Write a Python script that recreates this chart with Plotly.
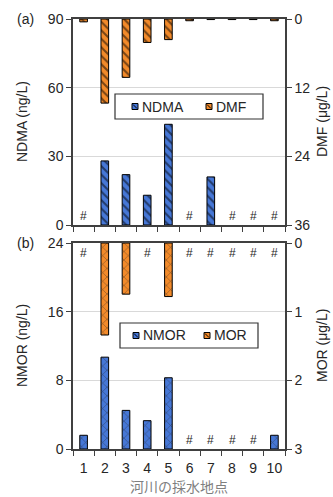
import plotly.graph_objects as go

sites = ["1", "2", "3", "4", "5", "6", "7", "8", "9", "10"]
ndma = [None, 28, 22, 13, 44, None, 21, None, None, None]       # ng/L, None = not detected (#)
dmf = [0.5, 14.7, 10.2, 4.1, 3.6, 0.3, 0.1, 0.1, 0.1, 0.3]       # ug/L
nmor = [1.6, 10.7, 4.5, 3.3, 8.3, None, None, None, None, 1.6]  # ng/L
mor = [None, 1.34, 0.745, None, 0.78, None, None, None, None, None]  # ug/L

a_left_ticks = [0, 30, 60, 90]
a_right_ticks = [0, 12, 24, 36]
b_left_ticks = [0, 8, 16, 24]
b_right_ticks = [0, 1, 2, 3]

BLUE = "#4677d6"
ORANGE = "#f28a2a"
FONT = "Liberation Sans, Arial, sans-serif"
TXT = "#262626"

# plot area in pixels (for paper conversions of hand-placed texts and legends)
L, R, T, B = 73, 285, 19, 449


def px(x):
    return (x - L) / (R - L)


def py(y):
    return (B - y) / (B - T)


fig = go.Figure()

hatch_a = dict(shape="\\", fgcolor="black", size=6, solidity=0.35)
hatch_b = dict(shape="x", fgcolor="#222222", size=6, solidity=0.2)

fig.add_trace(go.Bar(x=sites, y=ndma, name="NDMA", xaxis="x", yaxis="y",
                     marker=dict(color=BLUE, line=dict(color="black", width=1),
                                 pattern=dict(bgcolor=BLUE, **hatch_a)),
                     width=0.36, showlegend=False))
fig.add_trace(go.Bar(x=sites, y=dmf, name="DMF", xaxis="x", yaxis="y2",
                     marker=dict(color=ORANGE, line=dict(color="black", width=1),
                                 pattern=dict(bgcolor=ORANGE, **hatch_a)),
                     width=0.36, showlegend=False))
fig.add_trace(go.Bar(x=sites, y=nmor, name="NMOR", xaxis="x2", yaxis="y3",
                     marker=dict(color=BLUE, line=dict(color="black", width=1),
                                 pattern=dict(bgcolor=BLUE, **hatch_b)),
                     width=0.36, showlegend=False))
fig.add_trace(go.Bar(x=sites, y=mor, name="MOR", xaxis="x2", yaxis="y4",
                     marker=dict(color=ORANGE, line=dict(color="black", width=1),
                                 pattern=dict(bgcolor=ORANGE, **hatch_b)),
                     width=0.36, showlegend=False))

ann = []
shapes = []
hash_font = dict(family=FONT, size=12, color=TXT)
for i, v in enumerate(ndma):
    if v is None:
        ann.append(dict(x=i, y=0, xref="x", yref="y", text="#", showarrow=False,
                        yanchor="bottom", yshift=0, font=hash_font))
for i, v in enumerate(nmor):
    if v is None:
        ann.append(dict(x=i, y=0, xref="x2", yref="y3", text="#", showarrow=False,
                        yanchor="bottom", yshift=0, font=hash_font))
for i, v in enumerate(mor):
    if v is None:
        ann.append(dict(x=i, y=0, xref="x2", yref="y4", text="#", showarrow=False,
                        yanchor="top", yshift=-1, font=hash_font))

f14 = dict(family=FONT, size=14, color=TXT)
ann.append(dict(x=px(15), y=1.0, xref="paper", yref="paper", text="(a)", showarrow=False,
                xanchor="left", yanchor="middle", font=f14))
ann.append(dict(x=px(15), y=py(243), xref="paper", yref="paper", text="(b)", showarrow=False,
                xanchor="left", yanchor="middle", font=f14))

# axis titles
for text, xp, y0, y1 in [("NDMA (ng/L)", 22, 19, 225), ("NMOR (ng/L)", 22, 243, 449),
                         ("DMF (μg/L)", 322, 19, 225), ("MOR (μg/L)", 322, 243, 449)]:
    ann.append(dict(x=px(xp), y=py((y0 + y1) / 2), xref="paper", yref="paper", text=text,
                    textangle=-90, showarrow=False, xanchor="center", yanchor="middle",
                    font=f14))
ann.append(dict(x=px((L + R) / 2), y=py(486), xref="paper", yref="paper", text="河川の採水地点",
                showarrow=False, xanchor="center", yanchor="middle", borderpad=0,
                font=dict(family="Noto Sans CJK JP", size=14, color="#7f7f7f")))

# hand-made legends (box, swatches, labels)
legends = [
    dict(box=(115, 94, 263, 119), items=[("NDMA", BLUE, 132), ("DMF", ORANGE, 206)]),
    dict(box=(120, 323, 258, 348), items=[("NMOR", BLUE, 133), ("MOR", ORANGE, 204)]),
]
for lg in legends:
    x0, y0, x1, y1 = lg["box"]
    shapes.append(dict(type="rect", xref="paper", yref="paper", x0=px(x0), x1=px(x1),
                       y0=py(y1), y1=py(y0), line=dict(color="#333333", width=1.2),
                       fillcolor="white", layer="above"))
    yc = (y0 + y1) / 2
    for name, col, sx in lg["items"]:
        shapes.append(dict(type="rect", xref="paper", yref="paper", x0=px(sx), x1=px(sx + 6),
                           y0=py(yc + 3), y1=py(yc - 3), line=dict(color="black", width=1),
                           fillcolor=col, layer="above"))
        shapes.append(dict(type="line", xref="paper", yref="paper", x0=px(sx + 1), x1=px(sx + 5),
                           y0=py(yc - 2), y1=py(yc + 2), line=dict(color="black", width=1),
                           layer="above"))
        ann.append(dict(x=px(sx + 8), y=py(yc), xref="paper", yref="paper", text=name,
                        showarrow=False, xanchor="left", yanchor="middle", font=f14))

tickfont = dict(family=FONT, size=14, color=TXT)
axcol = "#404040"

xcommon = dict(type="category", range=[-0.5, 9.5], tickson="boundaries", ticks="outside",
               ticklen=5, tickcolor=axcol, showline=True, linecolor=axcol, linewidth=1.5,
               mirror=True, showgrid=False, tickfont=tickfont, tickangle=0)
ycommon = dict(ticks="outside", ticklen=5, tickcolor=axcol, showline=True, linecolor=axcol,
               linewidth=1.5, tickfont=tickfont, zeroline=False)

dom_a = [py(225), 1.0]
dom_b = [0.0, py(243)]

fig.update_layout(
    width=333, height=497,
    margin=dict(l=L, r=333 - R, t=T, b=497 - B),
    paper_bgcolor="white", plot_bgcolor="white",
    barmode="overlay",
    font=dict(family=FONT, color=TXT),
    xaxis=dict(domain=[0, 1], anchor="y", showticklabels=False, **xcommon),
    yaxis=dict(domain=dom_a, anchor="x", range=[0, 90], tickvals=a_left_ticks,
               showgrid=True, gridcolor="#d9d9d9", gridwidth=1, **ycommon),
    yaxis2=dict(overlaying="y", side="right", anchor="x", range=[36, 0], tickvals=a_right_ticks,
                showgrid=False, **ycommon),
    xaxis2=dict(domain=[0, 1], anchor="y3", ticklabelstandoff=5, **xcommon),
    yaxis3=dict(domain=dom_b, anchor="x2", range=[0, 24], tickvals=b_left_ticks,
                showgrid=True, gridcolor="#d9d9d9", gridwidth=1, **ycommon),
    yaxis4=dict(overlaying="y3", side="right", anchor="x2", range=[3, 0], tickvals=b_right_ticks,
                showgrid=False, **ycommon),
    annotations=ann,
    shapes=shapes,
)

fig.write_html("out.html")
